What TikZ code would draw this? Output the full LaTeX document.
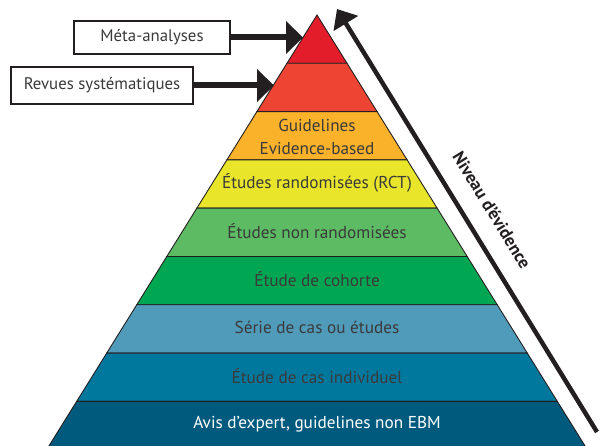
\documentclass[tikz,border=0pt]{standalone}
\usepackage{fontspec}
\setmainfont{PT Sans}
\usetikzlibrary{arrows.meta}

\definecolor{lvlA}{HTML}{E31E2A}
\definecolor{lvlB}{HTML}{EE4433}
\definecolor{lvlC}{HTML}{FBB22B}
\definecolor{lvlD}{HTML}{E8E52A}
\definecolor{lvlE}{HTML}{5DBB63}
\definecolor{lvlF}{HTML}{00A651}
\definecolor{lvlG}{HTML}{519BBA}
\definecolor{lvlH}{HTML}{00789E}
\definecolor{lvlI}{HTML}{005A7E}
\definecolor{ink}{HTML}{231F20}
\definecolor{txt}{HTML}{3A3A3A}

\tikzset{
  band/.style={draw=ink, line width=0.9pt},
  lbl/.style={text=txt, font=\fontsize{17.2}{23}\selectfont, align=center, inner sep=0pt},
  tagbox/.style={draw=ink, line width=1.1pt, fill=white, text=txt,
    font=\fontsize{16.8}{19}\selectfont, inner sep=0pt},
  pointer/.style={draw=ink, line width=6pt, -{Triangle[length=17pt,width=32pt]}},
  levelarrow/.style={draw=ink, line width=4.5pt, -{Triangle[length=17pt,width=28pt]}},
}

\begin{document}
\begin{tikzpicture}[x=1pt,y=-1pt]
\useasboundingbox (0,0) rectangle (600,446);

% pyramid bands, apex at (317,15), equal band heights
\begin{scope}
\clip (0,0) rectangle (600,446);
\foreach \c [count=\i from 0] in {lvlA,lvlB,lvlC,lvlD,lvlE,lvlF,lvlG,lvlH,lvlI} {
  \pgfmathsetmacro\ya{15+48.3*\i}
  \pgfmathsetmacro\yb{15+48.3*(\i+1)}
  \pgfmathsetmacro\wa{0.622*(\ya-15)}
  \pgfmathsetmacro\wb{0.622*(\yb-15)}
  \filldraw[band, fill=\c] ({317-\wa},\ya) -- ({317+\wa},\ya)
    -- ({317+\wb},\yb) -- ({317-\wb},\yb) -- cycle;
}
\end{scope}

% band labels
\node[lbl] (guide) at (317,136.5) {Guidelines\\Evidence-based};
\node[lbl] (rct)   at (317,182.5) {Études randomisées (RCT)};
\node[lbl] (nonr)  at (317,231)   {Études non randomisées};
\node[lbl] (coh)   at (317,279.5) {Étude de cohorte};
\node[lbl] (serie) at (317,327.5) {Série de cas ou études};
\node[lbl] (indiv) at (317,376)   {Étude de cas individuel};
\node[lbl, text=white] (avis) at (317,424) {Avis d’expert, guidelines non EBM};

% side boxes pointing at the top bands
\node[tagbox, minimum width=156pt, minimum height=33pt] (meta) at (152,37.5) {Méta-analyses};
\node[tagbox, minimum width=182pt, minimum height=37pt] (revues) at (102,85.5) {Revues systématiques};
\coordinate (metaTip) at (303,37.5);
\coordinate (revTip) at (274,85.5);
\draw[pointer] (meta.east) -- (metaTip);
\draw[pointer] (revues.east) -- (revTip);

% evidence level arrow along the right side
\coordinate (lvlLow) at (597,432);
\coordinate (lvlHigh) at (337,9);
\draw[levelarrow] (lvlLow) -- (lvlHigh);
\node[rotate=-58.5, text=ink, font=\fontsize{17.5}{20}\selectfont\bfseries] (lvlText) at (492,210) {Niveau d’évidence};

\end{tikzpicture}
\end{document}
